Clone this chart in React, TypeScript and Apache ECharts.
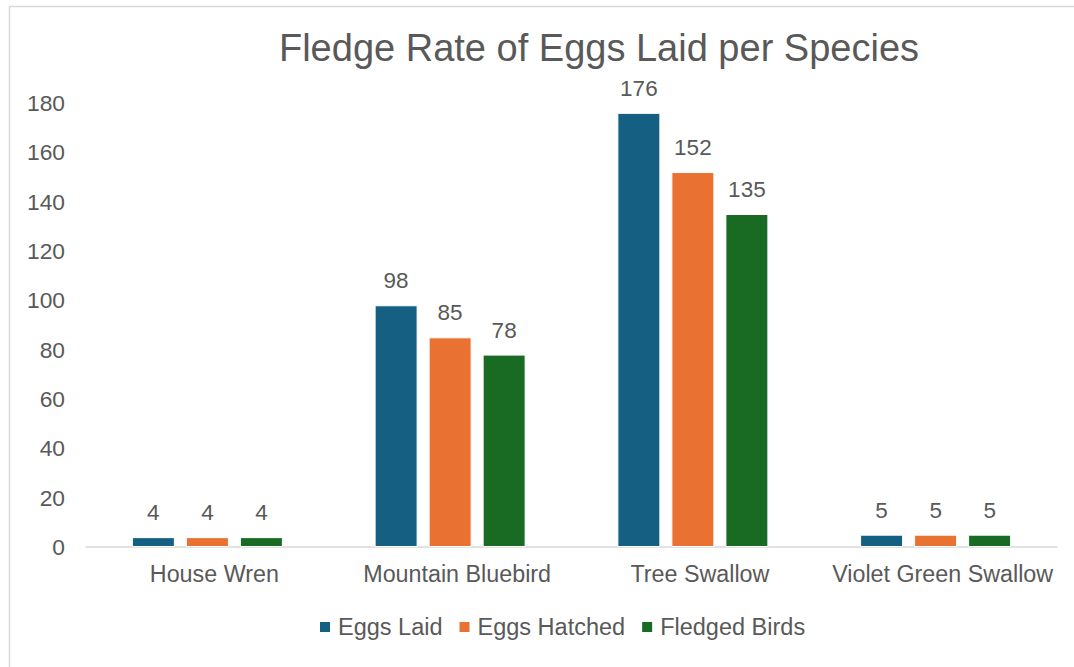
import React, { useEffect, useRef } from "react";
import * as echarts from "echarts";

const categories = ["House Wren", "Mountain Bluebird", "Tree Swallow", "Violet Green Swallow"];
const eggsLaid = [4, 98, 176, 5];
const eggsHatched = [4, 85, 152, 5];
const fledgedBirds = [4, 78, 135, 5];
const seriesNames = ["Eggs Laid", "Eggs Hatched", "Fledged Birds"];
const colors = ["#156082", "#E97132", "#196B24"];
const titleText = "Fledge Rate of Eggs Laid per Species";

const FONT = "'Liberation Sans', Arial, sans-serif";
const GRAY = "#595959";

export default function App() {
  const ref = useRef<HTMLDivElement>(null);
  useEffect(() => {
    if (!ref.current) return;
    const chart = echarts.init(ref.current, null, { renderer: "svg" });
    const values = [eggsLaid, eggsHatched, fledgedBirds];
    chart.setOption({
      animation: false,
      backgroundColor: "#ffffff",
      textStyle: { fontFamily: FONT },
      graphic: [
        {
          type: "rect",
          shape: { x: 9.5, y: 6.5, width: 1200, height: 800 },
          style: { fill: "none", stroke: "#d9d9d9", lineWidth: 1.5 },
          silent: true,
        },
        {
          type: "text",
          x: 599,
          y: 48,
          style: {
            text: titleText,
            fontFamily: FONT,
            fontSize: 38,
            fill: GRAY,
            textAlign: "center",
            textVerticalAlign: "middle",
          },
        },
      ],
      legend: {
        data: seriesNames,
        left: 313,
        top: 610,
        itemWidth: 12,
        itemHeight: 12,
        itemGap: 15,
        icon: "rect",
        textStyle: { fontFamily: FONT, fontSize: 23.5, color: GRAY, padding: [0, 0, 0, 2] },
      },
      grid: { left: 86, right: 17, top: 103, bottom: 120, containLabel: false },
      xAxis: {
        type: "category",
        data: categories,
        axisLine: { lineStyle: { color: "#d9d9d9", width: 1.5 } },
        axisTick: { show: false },
        axisLabel: {
          fontFamily: FONT,
          fontSize: 23.3,
          color: GRAY,
          margin: 15,
          padding: [0, 0, 0, 14],
          interval: 0,
        },
      },
      yAxis: {
        type: "value",
        min: 0,
        max: 180,
        interval: 20,
        splitLine: { show: false },
        axisLine: { show: false },
        axisTick: { show: false },
        axisLabel: {
          fontFamily: FONT,
          fontSize: 22.8,
          color: GRAY,
          margin: 21,
          padding: [0, 0, 6, 0],
        },
      },
      series: seriesNames.map((name, i) => ({
        name,
        type: "bar",
        data: values[i],
        barWidth: 43,
        barGap: "25.6%",
        itemStyle: { color: colors[i], borderColor: "#ffffff", borderWidth: 1 },
        label: {
          show: true,
          position: "top",
          distance: 13,
          fontFamily: FONT,
          fontSize: 22.5,
          color: GRAY,
        },
      })),
    });
    return () => chart.dispose();
  }, []);
  return (
    <div
      ref={ref}
      style={{ position: "fixed", left: 0, top: 0, width: 1074, height: 667 }}
    />
  );
}
